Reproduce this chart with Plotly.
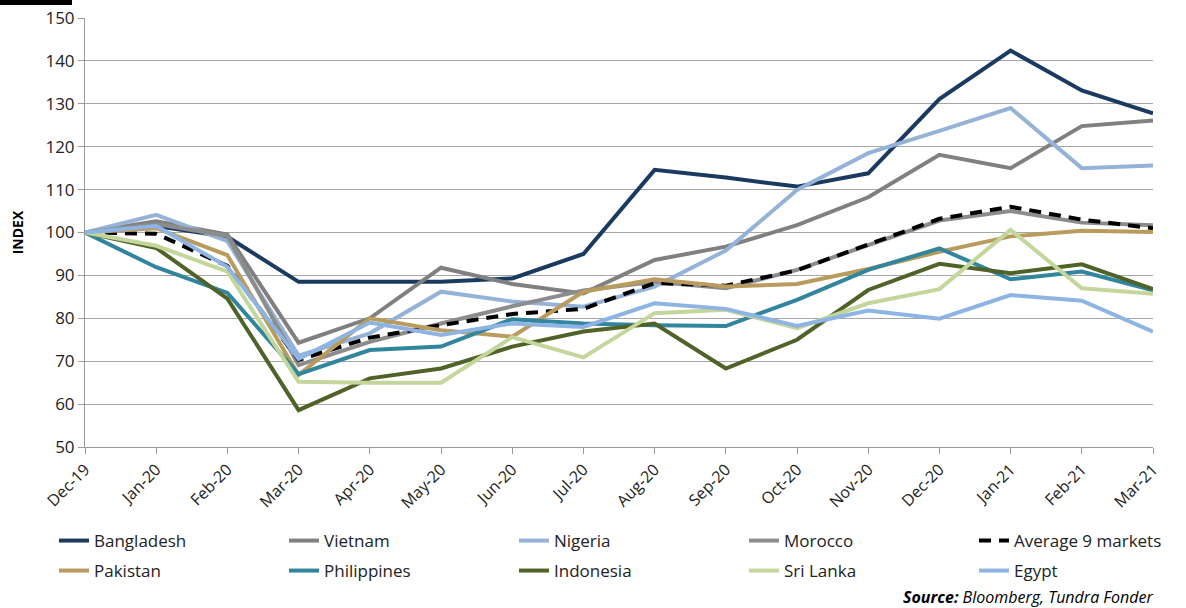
import plotly.graph_objects as go

months = ["Dec-19", "Jan-20", "Feb-20", "Mar-20", "Apr-20", "May-20", "Jun-20", "Jul-20",
          "Aug-20", "Sep-20", "Oct-20", "Nov-20", "Dec-20", "Jan-21", "Feb-21", "Mar-21"]

bangladesh = [100, 101.5, 99.0, 88.5, 88.5, 88.5, 89.3, 95.0, 114.6, 112.8, 110.7, 113.8, 131.1, 142.4, 133.1, 127.8]
vietnam = [100, 102.6, 99.5, 74.3, 80.0, 91.8, 88.0, 85.8, 93.6, 96.7, 101.7, 108.2, 118.1, 115.0, 124.8, 126.1]
nigeria = [100, 104.1, 98.0, 71.3, 76.5, 86.2, 83.9, 82.7, 87.4, 95.8, 109.9, 118.5, 123.7, 129.0, 115.0, 115.6]
morocco = [100, 102.0, 99.2, 69.1, 74.5, 78.8, 82.8, 86.5, 88.5, 87.0, 91.3, 97.0, 102.8, 105.0, 102.3, 101.7]
average = [100, 99.7, 92.2, 70.3, 75.5, 78.4, 81.0, 82.2, 88.2, 87.6, 91.2, 97.3, 103.2, 106.0, 103.0, 101.0]
pakistan = [100, 101.0, 94.7, 66.8, 80.0, 77.2, 75.7, 86.2, 89.1, 87.4, 88.0, 91.5, 95.5, 99.1, 100.4, 100.1]
philippines = [100, 91.9, 85.9, 67.0, 72.6, 73.4, 79.8, 78.8, 78.4, 78.2, 84.3, 91.3, 96.3, 89.1, 90.9, 86.5]
indonesia = [100, 96.4, 84.6, 58.6, 66.0, 68.3, 73.4, 76.9, 78.8, 68.3, 75.0, 86.6, 92.7, 90.5, 92.6, 86.8]
sri_lanka = [100, 96.9, 90.9, 65.2, 65.0, 65.0, 75.6, 70.9, 81.2, 82.0, 77.7, 83.5, 86.8, 100.6, 87.0, 85.7]
egypt = [100, 101.5, 92.0, 70.5, 79.0, 76.1, 78.8, 78.0, 83.5, 82.2, 78.2, 81.8, 79.9, 85.4, 84.1, 76.9]

y_ticks = [50, 60, 70, 80, 90, 100, 110, 120, 130, 140, 150]

# (name, values, colour, dash, legend row)
series = [
    ("Bangladesh", bangladesh, "#1B3A60", None, "legend"),
    ("Vietnam", vietnam, "#808080", None, "legend"),
    ("Nigeria", nigeria, "#95B3D7", None, "legend"),
    ("Morocco", morocco, "#8C8C8C", None, "legend"),
    ("Average 9 markets", average, "#000000", "12px,8px", "legend"),
    ("Pakistan", pakistan, "#BA9B5E", None, "legend2"),
    ("Philippines", philippines, "#31859C", None, "legend2"),
    ("Indonesia", indonesia, "#4F6228", None, "legend2"),
    ("Sri Lanka", sri_lanka, "#C3D69B", None, "legend2"),
    ("Egypt", egypt, "#8DB4E2", None, "legend2"),
]

FONT = "Open Sans, Noto Sans, sans-serif"

fig = go.Figure()
for name, vals, color, dash, leg in series:
    line = dict(color=color, width=4)
    if dash:
        line["dash"] = dash
    fig.add_trace(go.Scatter(x=months, y=vals, name=name, mode="lines", line=line, legend=leg))

W, H = 1186, 608
L, R, T, B = 85, 33, 18, 161
pw = W - L - R
ph = H - T - B

def px_x(x):
    return (x - L) / pw

def px_y(y):
    return (T + ph - y) / ph

legend_common = dict(
    orientation="h", xref="paper", yref="paper",
    x=px_x(54), xanchor="left", yanchor="middle",
    entrywidth=185, font=dict(size=17, color="#222222"),
    bgcolor="rgba(0,0,0,0)",
)

fig.update_layout(
    width=W, height=H,
    margin=dict(l=L, r=R, t=T, b=B, autoexpand=False),
    plot_bgcolor="white", paper_bgcolor="white",
    font=dict(family=FONT, size=16, color="#222222"),
    xaxis=dict(
        type="category", range=[0, 15], tickangle=-45,
        showgrid=False, showline=True, linecolor="#9A9A9A", linewidth=1,
        ticks="outside", ticklen=6, tickcolor="#9A9A9A",
        tickfont=dict(size=16, color="#222222"),
        zeroline=False,
    ),
    yaxis=dict(
        range=[50, 150], tickvals=y_ticks, ticktext=[str(v) for v in y_ticks],
        showgrid=True, gridcolor="#A6A6A6", gridwidth=1,
        showline=True, linecolor="#9A9A9A", linewidth=1,
        ticks="outside", ticklen=6, tickcolor="#9A9A9A",
        tickfont=dict(size=17, color="#222222"),
        title=dict(text="<b>INDEX</b>", font=dict(size=14, color="#000000"), standoff=18),
        zeroline=False,
    ),
    legend=dict(y=px_y(541), **legend_common),
    legend2=dict(y=px_y(571), **legend_common),
    showlegend=True,
)

fig.add_shape(type="rect", xref="paper", yref="paper",
              x0=px_x(0), x1=px_x(72), y0=px_y(5), y1=px_y(0),
              fillcolor="#000000", line=dict(width=0))

fig.add_annotation(
    xref="paper", yref="paper", x=px_x(1155), y=px_y(597),
    xanchor="right", yanchor="middle", showarrow=False,
    text="<b><i>Source:</i></b><i> Bloomberg, Tundra Fonder</i>",
    font=dict(size=16, color="#000000", family=FONT),
)

fig.write_html("out.html", config={"displayModeBar": False},
               post_script="document.body.style.margin='0px';")
